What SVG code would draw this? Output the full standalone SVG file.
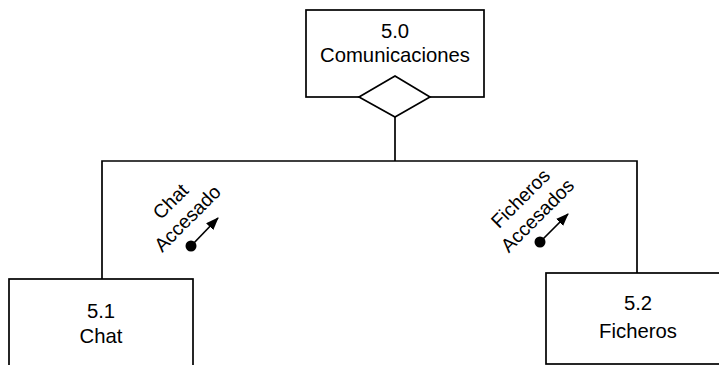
<svg xmlns="http://www.w3.org/2000/svg" width="719" height="365" viewBox="0 0 719 365">
<style>
.box{fill:#fff;stroke:#000;stroke-width:1.7}
.ln{fill:none;stroke:#000;stroke-width:1.7}
.t{font-family:"Liberation Sans",Arial,sans-serif;font-size:20.3px;text-anchor:middle;fill:#000}
.lbl{font-family:"Liberation Sans",Arial,sans-serif;font-size:19.3px;text-anchor:middle;fill:#000}
</style>
<defs>
<marker id="ah" markerWidth="13" markerHeight="10" refX="12" refY="5" orient="auto" markerUnits="userSpaceOnUse">
<path d="M0,0 L13,5 L0,10 Z" fill="#000"/>
</marker>
</defs>
<g id="connectors">
<polyline class="ln" points="102,279 102,161 637,161 637,273"/>
<line class="ln" x1="395" y1="117" x2="395" y2="161"/>
</g>
<g id="n50">
<rect class="box" x="306" y="10" width="178" height="87"/>
<polygon class="box" points="359,97 395,76 430,97 395,117"/>
<text class="t" x="395" y="38">5.0</text>
<text class="t" x="395" y="62">Comunicaciones</text>
</g>
<g id="n51">
<rect class="box" x="9" y="279" width="184" height="90"/>
<text class="t" x="101" y="318">5.1</text>
<text class="t" x="101" y="343">Chat</text>
</g>
<g id="n52">
<rect class="box" x="546" y="273" width="176" height="91"/>
<text class="t" x="638" y="310">5.2</text>
<text class="t" x="638" y="338">Ficheros</text>
</g>
<g id="f1">
<text class="lbl" transform="translate(179,210) rotate(-45)"><tspan x="0" y="-5.5">Chat</tspan><tspan x="0" y="18.5">Accesado</tspan></text>
<circle cx="191" cy="246" r="5.5"/>
<line class="ln" x1="191" y1="246" x2="218" y2="218" marker-end="url(#ah)"/>
</g>
<g id="f2">
<text class="lbl" transform="translate(529,207) rotate(-45)"><tspan x="0" y="-5.5">Ficheros</tspan><tspan x="0" y="18.5">Accesados</tspan></text>
<circle cx="540" cy="242" r="5.5"/>
<line class="ln" x1="540" y1="242" x2="568" y2="214" marker-end="url(#ah)"/>
</g>
</svg>
